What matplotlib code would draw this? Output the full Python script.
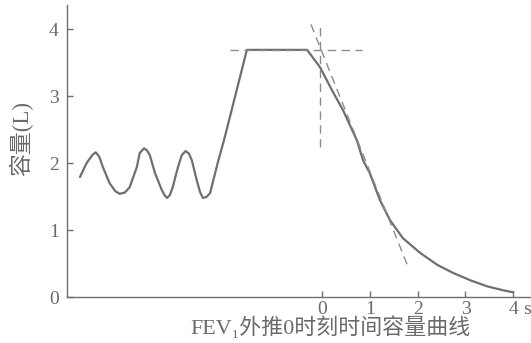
import matplotlib
matplotlib.use("Agg")
import matplotlib.pyplot as plt

# volume-time trace (t in s, volume in L)
trace_t = [-5.06, -4.92, -4.80, -4.73, -4.66, -4.58, -4.44, -4.32, -4.23, -4.12,
           -4.02, -3.87, -3.81, -3.72, -3.66, -3.60, -3.49, -3.35, -3.29, -3.24,
           -3.18, -3.12, -3.01, -2.93, -2.85, -2.78, -2.72, -2.62, -2.55, -2.49,
           -2.42, -2.34, -2.18, -2.03, -1.57, -0.31, -0.04, 0.23, 0.44, 0.73,
           0.86, 1.00, 1.21, 1.42, 1.69, 2.05, 2.41, 2.74, 3.10, 3.45,
           3.79, 4.00]
trace_v = [1.79, 2.00, 2.12, 2.16, 2.10, 1.94, 1.70, 1.58, 1.54, 1.56,
           1.64, 1.94, 2.15, 2.22, 2.19, 2.12, 1.85, 1.60, 1.52, 1.48,
           1.52, 1.64, 1.94, 2.12, 2.18, 2.14, 2.04, 1.75, 1.57, 1.48,
           1.49, 1.55, 2.00, 2.39, 3.69, 3.69, 3.43, 3.06, 2.79, 2.34,
           2.04, 1.85, 1.45, 1.15, 0.88, 0.66, 0.48, 0.36, 0.25, 0.16,
           0.10, 0.07]

# back-extrapolation construction lines
plateau_t = [-1.92, 0.84]
plateau_v = [3.69, 3.69]
zero_t = [-0.04, -0.04]
zero_v = [2.24, 4.10]
tangent_t = [-0.23, 1.80]
tangent_v = [4.07, 0.45]

x_ticks = [0, 1, 2, 3, 4]
y_ticks = [0, 1, 2, 3, 4]

LINE = "#6f6f6f"
DASH = "#8c8c8c"
TEXT = "#6a6a6a"
SERIF = ["Liberation Serif", "Noto Sans CJK SC", "DejaVu Serif"]

fig = plt.figure(figsize=(5.31, 3.43), dpi=100)
ax = fig.add_axes([67 / 531, 46 / 343, 1 - 67 / 531, 292 / 343])

ax.plot(trace_t, trace_v, color=LINE, lw=1.6, solid_joinstyle="round", solid_capstyle="round")
dash_kw = dict(color=DASH, lw=1.0, dashes=(6, 4))
ax.plot(plateau_t, plateau_v, **dash_kw)
ax.plot(zero_t, zero_v, **dash_kw)
ax.plot(tangent_t, tangent_v, **dash_kw)

ax.set_xlim(-5.33, 4.37)
ax.set_ylim(0, 4.36)
ax.set_xticks(x_ticks)
ax.set_yticks(y_ticks)
ax.set_xticklabels([str(v) for v in x_ticks])
ax.set_yticklabels([str(v) for v in y_ticks])

for side in ("top", "right"):
    ax.spines[side].set_visible(False)
for side in ("left", "bottom"):
    ax.spines[side].set_color(LINE)
    ax.spines[side].set_linewidth(1.0)

ax.tick_params(direction="in", length=4, width=1.0, color=LINE, labelcolor=TEXT, labelsize=14)
ax.tick_params(axis="y", pad=6)
ax.tick_params(axis="x", pad=3)
for lab in ax.get_xticklabels() + ax.get_yticklabels():
    lab.set_family(SERIF)

ax.annotate("s", xy=(4, 0), xytext=(10, -3), textcoords="offset points",
            ha="center", va="top", color=TEXT, fontsize=14, family=SERIF)

fig.text(21 / 531, 1 - 138 / 343, "容量(L)", rotation=90, ha="center", va="center",
         color=TEXT, fontsize=16.5, family=SERIF)
fig.text(330 / 531, 1 - 328 / 343, "FEV₁外推0时刻时间容量曲线", ha="center", va="center",
         color=TEXT, fontsize=15.8, family=SERIF)

fig.savefig("out.png", dpi=100)
